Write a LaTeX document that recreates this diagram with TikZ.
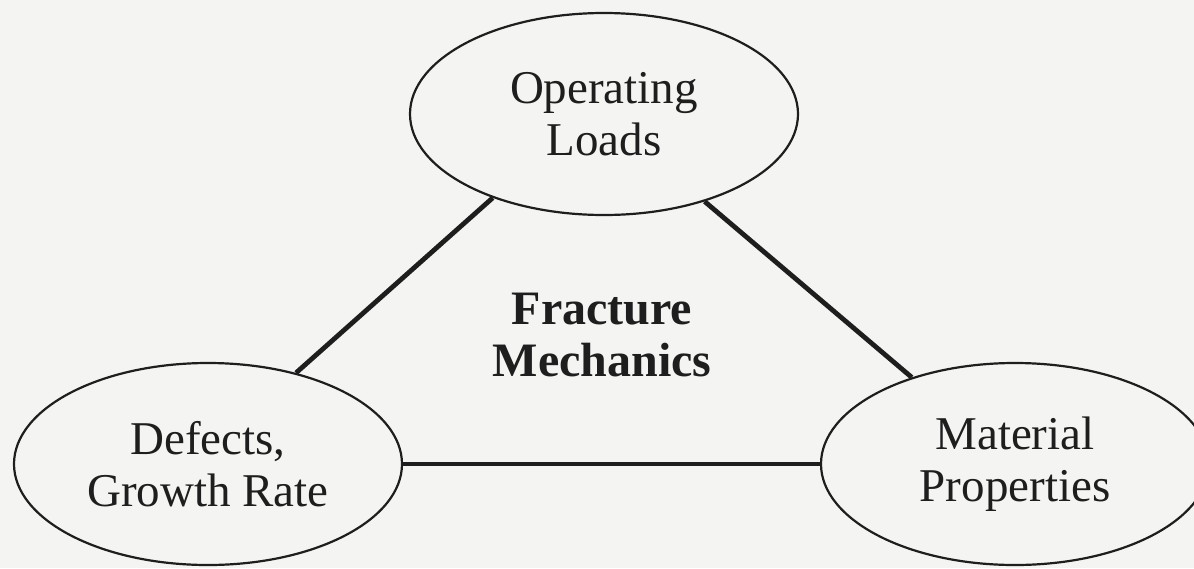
\documentclass[tikz,border=0pt]{standalone}
\usepackage{fontspec}
\setmainfont{Liberation Serif}
\usetikzlibrary{shapes.geometric}
\definecolor{bg}{HTML}{F4F4F2}
\definecolor{ink}{HTML}{1E1E1E}
\tikzset{
  topic/.style={ellipse, draw=ink, line width=1.1pt, minimum width=194pt, minimum height=101pt,
    inner sep=0pt, align=center, font=\fontsize{23.5pt}{26pt}\selectfont, text=ink},
  centre/.style={align=center, font=\fontsize{24pt}{26pt}\selectfont\bfseries, text=ink},
  link/.style={draw=ink, line width=2.4pt}
}
\begin{document}
\begin{tikzpicture}[x=0.5pt, y=-0.5pt]
  \fill[bg] (0,0) rectangle (1194,568);
  \useasboundingbox (0,0) rectangle (1194,568);
  \node[topic] (T) at (604,114) {Operating\\Loads};
  \node[topic] (L) at (208,464) {Defects,\\Growth Rate};
  \node[topic] (R) at (1015,464) {Material\\Properties};
  \node[centre] (C) at (602,335) {Fracture\\Mechanics};
  \draw[link] (L.46) -- (T.217);
  \draw[link] (T.319) -- (R.140);
  \draw[link] (L.east) -- (R.west);
\end{tikzpicture}
\end{document}
